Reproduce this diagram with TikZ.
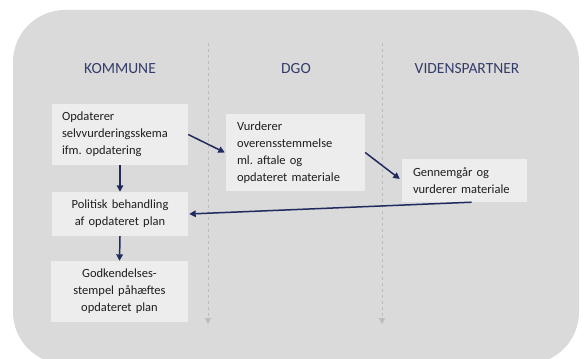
\documentclass[tikz,border=0pt]{standalone}
\usepackage{fontspec}
\setmainfont[WordSpace={0.8,0.5,0.5}]{Carlito}
\usetikzlibrary{arrows.meta,calc}
\definecolor{bgc}{RGB}{218,218,218}
\definecolor{boxc}{RGB}{237,237,237}
\definecolor{navy}{RGB}{32,42,94}
\definecolor{headc}{RGB}{52,60,104}
\definecolor{txtc}{RGB}{30,30,30}
\definecolor{dashc}{RGB}{188,188,188}
\frenchspacing
\begin{document}
\begin{tikzpicture}[x=1pt,y=-1pt,
  stepbox/.style={fill=boxc,draw=none,inner xsep=0pt,inner ysep=0pt,font=\fontsize{12.5}{17}\selectfont,text=txtc},
  header/.style={font=\fontsize{15.5}{18}\selectfont,text=headc},
  flow/.style={draw=navy,line width=1.5pt,-{Triangle[length=6.5pt,width=6.5pt]}},
  lane/.style={draw=dashc,dashed,line width=0.6pt,-{Triangle[length=6pt,width=6pt,fill=dashc]}}]
\useasboundingbox (0,0) rectangle (585,358);
\fill[bgc,rounded corners=52pt] (13,10) rectangle (579,364);
% lanes
\coordinate (l1t) at (208,43);
\coordinate (l1b) at (208,324);
\coordinate (l2t) at (382,43);
\coordinate (l2b) at (382,324);
\draw[lane] (l1t) -- (l1b);
\draw[lane] (l2t) -- (l2b);
% headers
\node[header] (hk) at (120,69) {KOMMUNE};
\node[header] (hd) at (296,69) {DGO};
\node[header] (hv) at (467,69) {VIDENSPARTNER};
% boxes
\node[stepbox,minimum width=136pt,minimum height=61pt,text width=116pt,align=left] (b1) at (120,134.5)
  {Opdaterer\\selvvurderingsskema\\ifm. opdatering};
\node[stepbox,minimum width=136pt,minimum height=44pt,text width=130pt,align=center] (b2) at (120,214)
  {Politisk behandling\\af opdateret plan};
\node[stepbox,minimum width=137pt,minimum height=61pt,text width=130pt,align=center] (b3) at (119.5,291.5)
  {Godkendelses-\\stempel påhæftes\\opdateret plan};
\node[stepbox,minimum width=139pt,minimum height=77pt,text width=117pt,align=left] (dg) at (295.5,152.5)
  {Vurderer\\overensstemmelse\\ml. aftale og\\opdateret materiale};
\node[stepbox,minimum width=125pt,minimum height=43pt,text width=103pt,align=left] (vp) at (464.5,180.5)
  {Gennemgår og\\vurderer materiale};
% connectors
\draw[flow] (b1.east) -- ([xshift=-1pt]dg.west);
\draw[flow] (dg.east) -- ([xshift=-2pt,yshift=1.5pt]vp.west);
\draw[flow] ([xshift=7pt]vp.south) -- ([xshift=1pt]b2.east);
\draw[flow] (b1.south) -- (b2.north);
\draw[flow] (b2.south) -- (b3.north);
\end{tikzpicture}
\end{document}
